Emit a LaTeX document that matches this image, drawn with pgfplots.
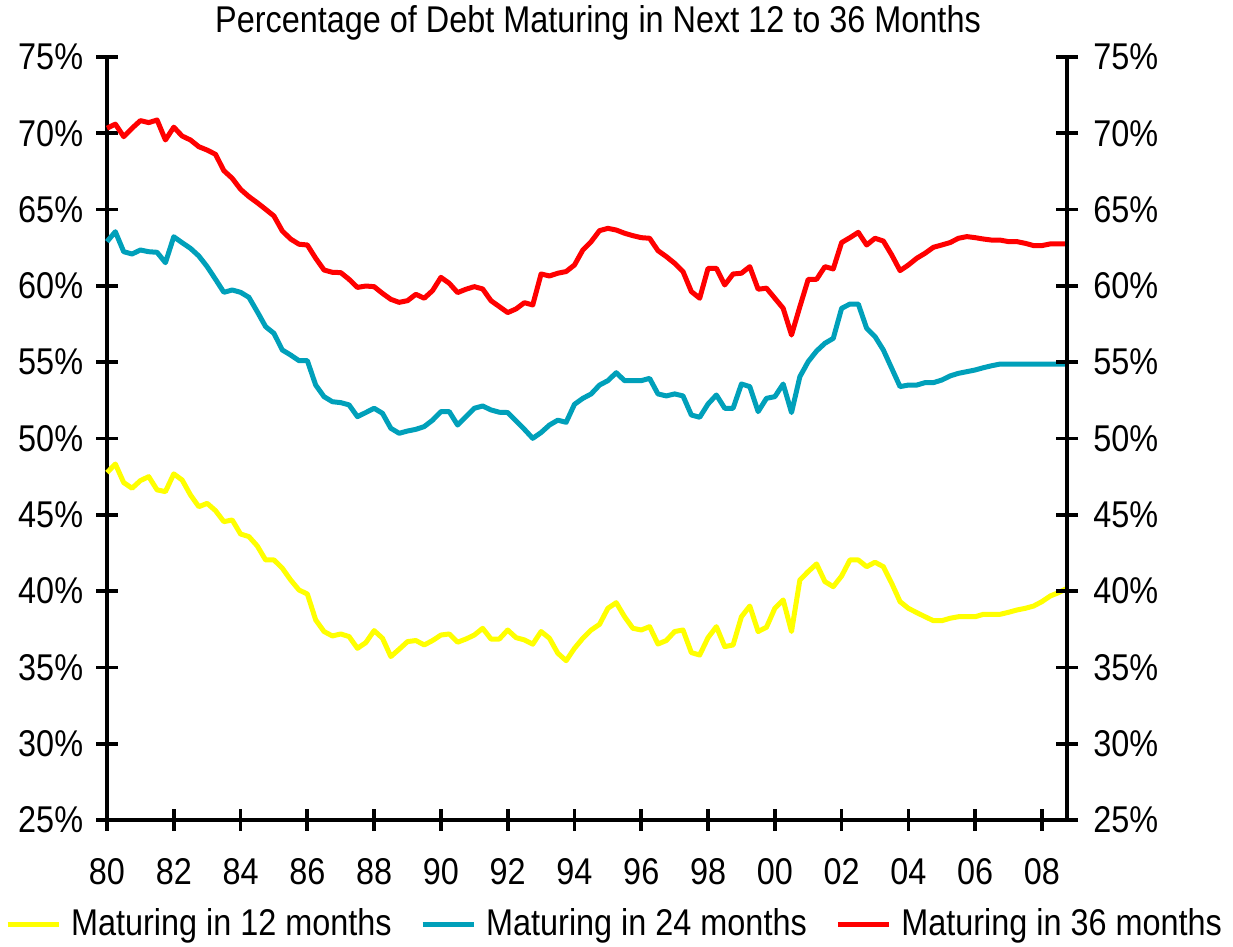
\documentclass[border=0pt]{standalone}
\usepackage{pgfplots}
\usepackage{pgfplotstable}
\pgfplotsset{compat=1.18}
\usepackage{fontspec}
\setmainfont{Liberation Sans}[FakeStretch=0.87]
\definecolor{cyel}{RGB}{255,255,0}
\definecolor{cteal}{RGB}{0,160,186}
\definecolor{cred}{RGB}{255,0,0}
\pgfplotstableread{
x a b c
1980.00 47.76 62.90 70.33
1980.25 48.33 63.55 70.60
1980.50 47.11 62.24 69.78
1980.75 46.74 62.09 70.33
1981.00 47.24 62.35 70.83
1981.25 47.50 62.24 70.70
1981.50 46.63 62.20 70.87
1981.75 46.52 61.52 69.56
1982.00 47.68 63.22 70.40
1982.25 47.28 62.83 69.82
1982.50 46.30 62.46 69.56
1982.75 45.53 61.96 69.12
1983.00 45.75 61.26 68.90
1983.25 45.27 60.43 68.62
1983.50 44.55 59.58 67.55
1983.75 44.66 59.73 67.05
1984.00 43.74 59.58 66.33
1984.25 43.57 59.25 65.85
1984.50 42.96 58.31 65.45
1984.75 42.04 57.33 65.02
1985.00 42.04 56.89 64.58
1985.25 41.50 55.80 63.60
1985.50 40.73 55.47 63.07
1985.75 40.07 55.10 62.73
1986.00 39.81 55.10 62.68
1986.25 38.11 53.50 61.81
1986.50 37.35 52.74 61.04
1986.75 37.06 52.41 60.89
1987.00 37.19 52.35 60.87
1987.25 37.02 52.20 60.43
1987.50 36.25 51.43 59.90
1987.75 36.62 51.70 59.99
1988.00 37.41 51.98 59.95
1988.25 36.91 51.65 59.51
1988.50 35.71 50.67 59.12
1988.75 36.19 50.34 58.92
1989.00 36.69 50.49 59.03
1989.25 36.76 50.60 59.45
1989.50 36.47 50.78 59.19
1989.75 36.76 51.20 59.69
1990.00 37.12 51.76 60.56
1990.25 37.19 51.76 60.17
1990.50 36.65 50.88 59.56
1990.75 36.86 51.43 59.78
1991.00 37.12 51.98 59.95
1991.25 37.56 52.13 59.80
1991.50 36.86 51.87 59.03
1991.75 36.86 51.72 58.64
1992.00 37.45 51.70 58.25
1992.25 36.95 51.15 58.49
1992.50 36.80 50.60 58.90
1992.75 36.52 50.01 58.75
1993.00 37.35 50.39 60.78
1993.25 36.91 50.88 60.65
1993.50 35.93 51.20 60.83
1993.75 35.44 51.06 60.94
1994.00 36.25 52.24 61.37
1994.25 36.91 52.63 62.35
1994.50 37.45 52.92 62.90
1994.75 37.82 53.50 63.62
1995.00 38.87 53.79 63.77
1995.25 39.24 54.31 63.66
1995.50 38.32 53.79 63.45
1995.75 37.56 53.79 63.29
1996.00 37.45 53.79 63.16
1996.25 37.67 53.94 63.12
1996.50 36.53 52.92 62.31
1996.75 36.76 52.79 61.92
1997.00 37.35 52.92 61.48
1997.25 37.45 52.79 60.94
1997.50 35.97 51.54 59.63
1997.75 35.81 51.39 59.19
1998.00 36.95 52.26 61.15
1998.25 37.67 52.85 61.15
1998.50 36.36 51.98 60.06
1998.75 36.47 51.98 60.78
1999.00 38.32 53.57 60.83
1999.25 39.02 53.40 61.26
1999.50 37.35 51.76 59.78
1999.75 37.63 52.63 59.85
2000.00 38.87 52.74 59.19
2000.25 39.42 53.57 58.53
2000.50 37.35 51.70 56.78
2000.75 40.73 54.05 58.64
2001.00 41.28 55.04 60.43
2001.25 41.78 55.73 60.43
2001.50 40.62 56.24 61.26
2001.75 40.29 56.56 61.11
2002.00 40.99 58.53 62.84
2002.25 42.04 58.81 63.16
2002.50 42.04 58.81 63.51
2002.75 41.60 57.22 62.68
2003.00 41.89 56.68 63.12
2003.25 41.60 55.80 62.94
2003.50 40.51 54.60 62.03
2003.75 39.31 53.40 61.00
2004.00 38.87 53.50 61.37
2004.25 38.59 53.50 61.81
2004.50 38.32 53.66 62.14
2004.75 38.06 53.66 62.53
2005.00 38.06 53.83 62.68
2005.25 38.22 54.10 62.84
2005.50 38.32 54.27 63.12
2005.75 38.32 54.38 63.23
2006.00 38.32 54.49 63.16
2006.25 38.48 54.64 63.07
2006.50 38.48 54.77 63.00
2006.75 38.48 54.88 63.00
2007.00 38.61 54.88 62.90
2007.25 38.76 54.88 62.90
2007.50 38.87 54.88 62.79
2007.75 39.02 54.88 62.64
2008.00 39.31 54.88 62.64
2008.25 39.68 54.88 62.75
2008.50 39.90 54.88 62.75
2008.75 40.18 54.88 62.75
}\data
\begin{document}
\fontsize{14.9}{17}\selectfont
\begin{tikzpicture}
\pgfplotsset{
  common/.style={
    scale only axis, width=384pt, height=305.2pt,
    xmin=1980, xmax=2008.75, ymin=25, ymax=75,
    ytick={25,30,...,75},
    yticklabels={25\%,30\%,35\%,40\%,45\%,50\%,55\%,60\%,65\%,70\%,75\%},
    tick align=center, major tick length=8.8pt,
    tick style={black, line width=1.5pt},
    axis line style={black, line width=1.5pt, -},
    minor tick num=0,
  }
}
\begin{axis}[name=main, common,
  axis x line*=bottom, axis y line*=left,
  xtick={1980,1982,...,2008},
  xticklabels={80,82,84,86,88,90,92,94,96,98,00,02,04,06,08},
  xticklabel style={yshift=-6pt},
  yticklabel style={xshift=0pt},
  clip=false,
  every axis title shift=0pt,
  title={Percentage of Debt Maturing in Next 12 to 36 Months},
  title style={at={(0.5115,1.045)}, anchor=center},
  legend columns=3,
  legend style={draw=none, fill=none, at={(0.5276,-0.1376)}, anchor=center,
    nodes={inner sep=0pt},
    /tikz/every odd column/.append style={column sep=4pt},
    /tikz/every even column/.append style={column sep=11.4pt}},
  legend image code/.code={\draw[#1, line cap=butt] (0pt,0pt) -- (20.4pt,0pt);},
  every axis plot/.append style={line width=2pt, line join=round},
]
\addplot[cyel, no markers] table[x=x, y=a] {\data};
\addlegendentry{Maturing in 12 months}
\addplot[cteal, no markers] table[x=x, y=b] {\data};
\addlegendentry{Maturing in 24 months}
\addplot[cred, no markers] table[x=x, y=c] {\data};
\addlegendentry{Maturing in 36 months}
\end{axis}
\begin{axis}[common,
  axis x line=none, axis y line*=right,
  yticklabel style={xshift=1pt},
]
\end{axis}
\pgfresetboundingbox
\path[use as bounding box] ([shift={(-42.8pt,-50.8pt)}]main.south west) rectangle ([shift={(66.4pt,22.8pt)}]main.north east);
\end{tikzpicture}
\end{document}
